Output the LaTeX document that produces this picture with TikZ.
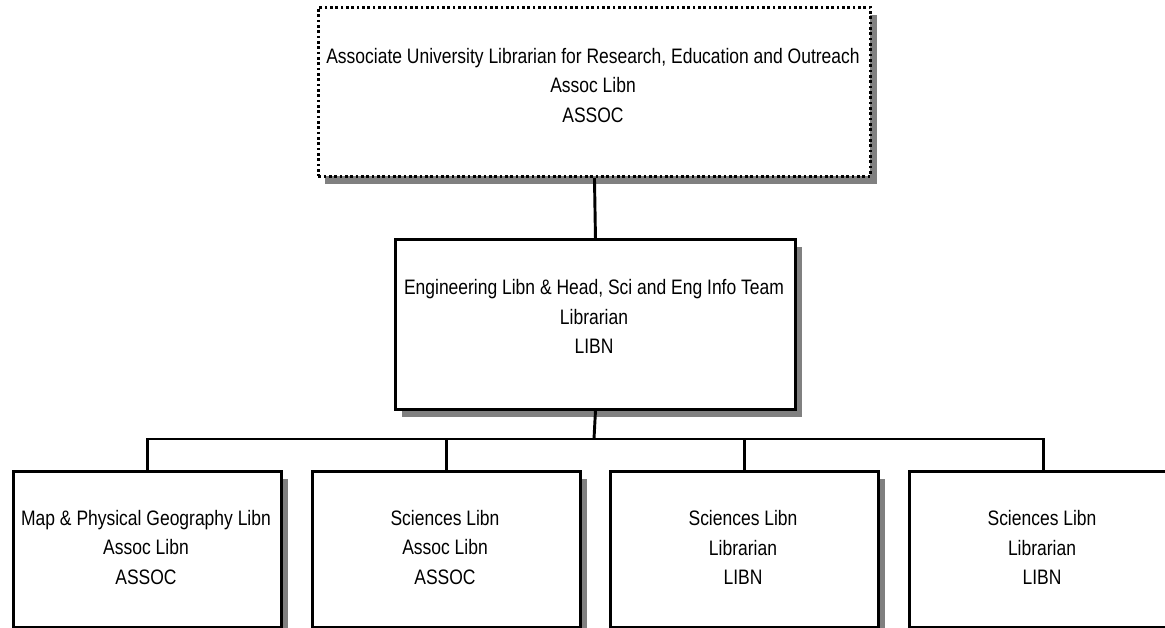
\documentclass[tikz,border=0pt]{standalone}
\usepackage{fontspec}
\setmainfont{Liberation Sans}[FakeStretch=0.835]
\usetikzlibrary{shadows}
\definecolor{shadowgray}{RGB}{128,128,128}
\tikzset{
  box/.style={draw=black, line width=2.2pt, fill=white, inner sep=0pt, anchor=north west,
    drop shadow={shadow xshift=5.2pt, shadow yshift=-5.5pt, fill=shadowgray, opacity=1}},
  dotbox/.style={box, dash pattern=on 2pt off 2pt},
  lbl/.style={align=center, font=\fontsize{15.7}{22.1}\selectfont, inner sep=0pt},
  conn/.style={draw=black, line width=2.2pt}
}
\begin{document}
\begin{tikzpicture}[x=0.75pt,y=-0.75pt]
\useasboundingbox (0,0) rectangle (1165,628);
% top
\node[dotbox, minimum width=414pt, minimum height=126.75pt] (top) at (317,6) {};
\node[lbl] (topT) at (593,85.5) {Associate University Librarian for Research, Education and Outreach\\Assoc Libn\\ASSOC};
% middle
\node[box, minimum width=300pt, minimum height=127.5pt] (mid) at (394,238) {};
\node[lbl] (midT) at (594,316.5) {Engineering Libn \& Head, Sci and Eng Info Team\\Librarian\\LIBN};
% bottom row
\node[box, minimum width=201pt, minimum height=117pt] (b1) at (12,470) {};
\node[box, minimum width=201pt, minimum height=117pt] (b2) at (311,470) {};
\node[box, minimum width=201pt, minimum height=117pt] (b3) at (609,470) {};
\node[box, minimum width=201pt, minimum height=117pt] (b4) at (908,470) {};
\node[lbl] (b1T) at (146,547.5) {Map \& Physical Geography Libn\\Assoc Libn\\ASSOC};
\node[lbl] (b2T) at (445,547.5) {Sciences Libn\\Assoc Libn\\ASSOC};
\node[lbl] (b3T) at (743,547.5) {Sciences Libn\\Librarian\\LIBN};
\node[lbl] (b4T) at (1042,547.5) {Sciences Libn\\Librarian\\LIBN};
% connectors
\coordinate (bus) at (594,439);
\draw[conn] (top.south) -- (mid.north);
\draw[conn] (mid.south) -- (bus);
\draw[conn] (b1.north) |- (bus) -| (b4.north);
\draw[conn] (b2.north) -- (b2.north |- bus);
\draw[conn] (b3.north) -- (b3.north |- bus);
\end{tikzpicture}
\end{document}
